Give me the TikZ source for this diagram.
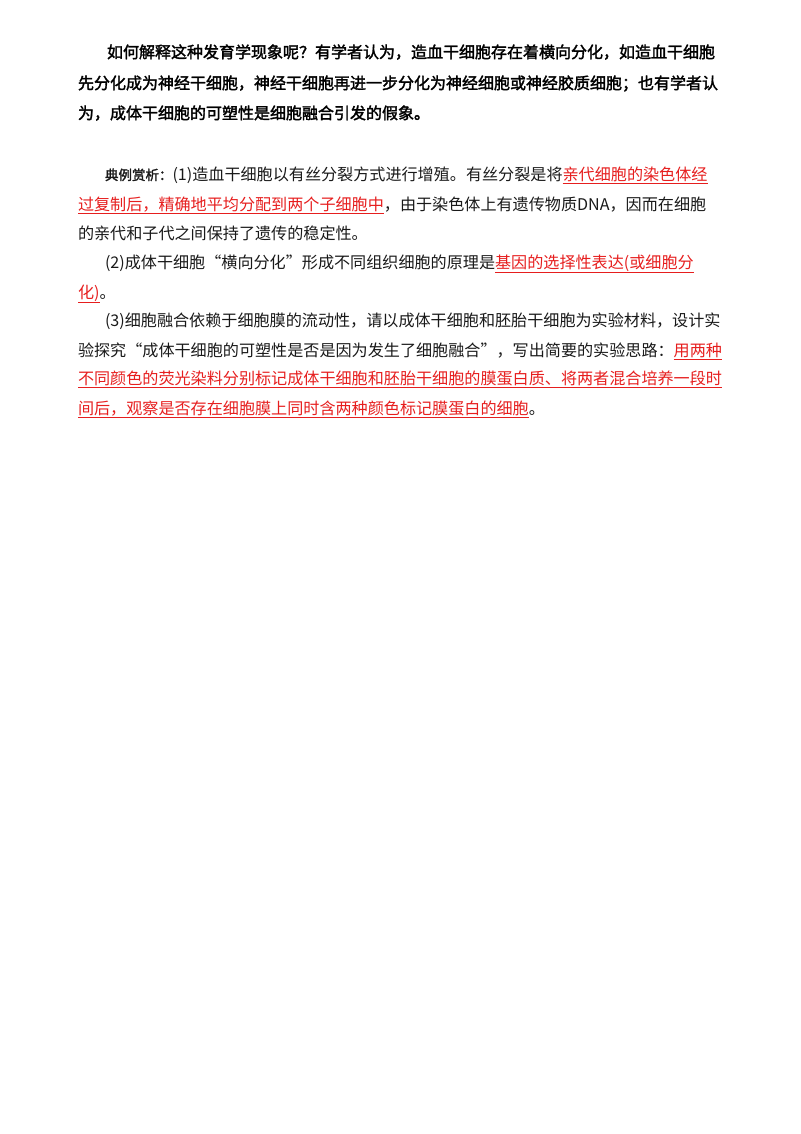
\documentclass[tikz,border=0pt]{standalone}
\usepackage{fontspec}
\setmainfont{Noto Sans CJK SC}[AutoFakeBold=2]
\definecolor{ans}{RGB}{230,30,30}
\newcommand\ans[1]{{\color{ans}\underline{#1}}}
\tikzset{ln/.style={anchor=base west,inner sep=0pt,outer sep=0pt},
 pa/.style={ln,font=\fontsize{16}{16}\selectfont\bfseries},
 pb/.style={ln,font=\fontsize{16.1}{16}\selectfont,text=black!90}}
\begin{document}
\begin{tikzpicture}[x=1pt,y=-1pt]
\useasboundingbox (0,0) rectangle (800,1134);
\node[pa] (a1) at (107,58) {如何解释这种发育学现象呢？有学者认为，造血干细胞存在着横向分化，如造血干细胞};
\node[pa] (a2) at (78,89) {先分化成为神经干细胞，神经干细胞再进一步分化为神经细胞或神经胶质细胞；也有学者认};
\node[pa] (a3) at (78,119) {为，成体干细胞的可塑性是细胞融合引发的假象。};
\node[pb] (b1) at (105,180) {{\fontsize{13.5}{13}\selectfont\bfseries 典例赏析：}(1)造血干细胞以有丝分裂方式进行增殖。有丝分裂是将\ans{亲代细胞的染色体经}};
\node[pb] (b2) at (78,210) {\ans{过复制后，精确地平均分配到两个子细胞中}，由于染色体上有遗传物质DNA，因而在细胞};
\node[pb] (b3) at (78,239) {的亲代和子代之间保持了遗传的稳定性。};
\node[pb] (b4) at (105,268) {(2)成体干细胞“横向分化”形成不同组织细胞的原理是\ans{基因的选择性表达(或细胞分}};
\node[pb] (b5) at (78,298) {\ans{化)}。};
\node[pb] (b6) at (105,326) {(3)细胞融合依赖于细胞膜的流动性，请以成体干细胞和胚胎干细胞为实验材料，设计实};
\node[pb] (b7) at (78,356) {验探究“成体干细胞的可塑性是否是因为发生了细胞融合”，写出简要的实验思路：\ans{用两种}};
\node[pb] (b8) at (78,384) {\ans{不同颜色的荧光染料分别标记成体干细胞和胚胎干细胞的膜蛋白质、将两者混合培养一段时}};
\node[pb] (b9) at (78,414) {\ans{间后，观察是否存在细胞膜上同时含两种颜色标记膜蛋白的细胞}。};
\end{tikzpicture}
\end{document}
